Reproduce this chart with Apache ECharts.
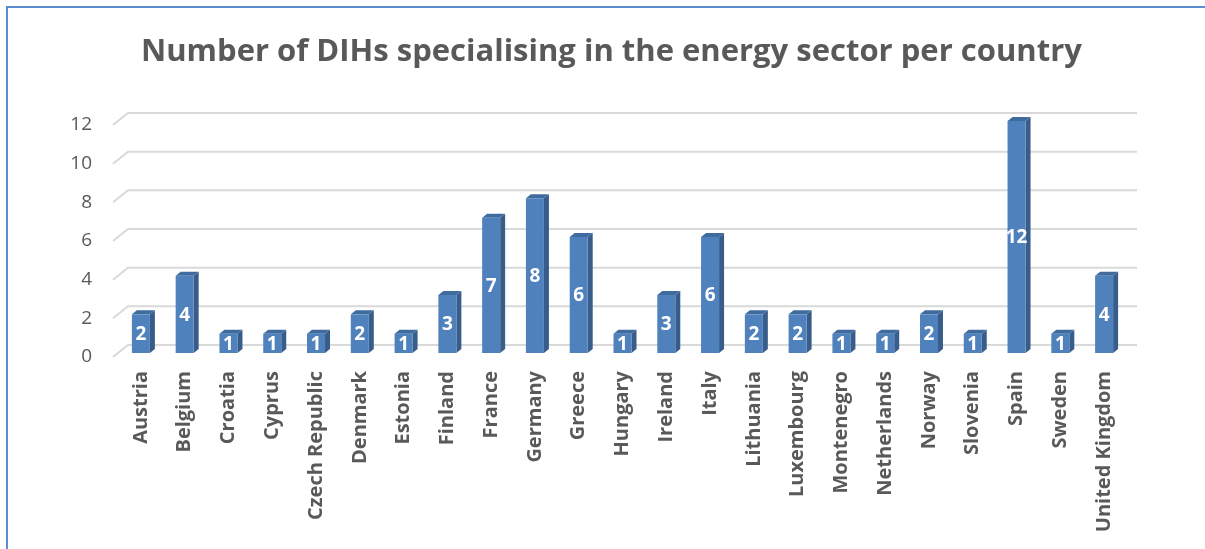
<!DOCTYPE html>
<html>
<head>
<meta charset="utf-8">
<script src="https://cdn.jsdelivr.net/npm/echarts@6/dist/echarts.min.js"></script>
<style>
html,body{margin:0;padding:0;background:#fff;}
#chart{width:1205px;height:549px;}
</style>
</head>
<body>
<div id="chart"></div>
<script>
const categories = ["Austria","Belgium","Croatia","Cyprus","Czech Republic","Denmark","Estonia","Finland","France","Germany","Greece","Hungary","Ireland","Italy","Lithuania","Luxembourg","Montenegro","Netherlands","Norway","Slovenia","Spain","Sweden","United Kingdom"];
const values = [2,4,1,1,1,2,1,3,7,8,6,1,3,6,2,2,1,1,2,1,12,1,4];
const yTicks = [0,2,4,6,8,10,12];

const chart = echarts.init(document.getElementById('chart'), null, {renderer:'canvas'});
const FONT = '"Open Sans", "Liberation Sans", sans-serif';
const GREY = '#595959';

const option = {
  animation: false,
  backgroundColor: '#fff',
  title: {
    text: 'Number of DIHs specialising in the energy sector per country',
    left: 136, top: 32,
    textStyle: {fontFamily: FONT, fontWeight: 'bold', fontSize: 31, color: GREY}
  },
  graphic: [
    {type:'line', shape:{x1:6,y1:7,x2:1205,y2:7}, style:{stroke:'#5b8bd0', lineWidth:2}, z:100},
    {type:'line', shape:{x1:7,y1:6,x2:7,y2:549}, style:{stroke:'#5b8bd0', lineWidth:2}, z:100}
  ],
  grid: {left:119, right:79, top:121, bottom:196, containLabel:false},
  xAxis: {
    type:'category', data: categories,
    axisLine:{show:false}, axisTick:{show:false},
    axisLabel:{rotate:90, interval:0, margin:18, fontFamily:FONT, fontWeight:'bold', fontSize:20, color:GREY}
  },
  yAxis: {
    type:'value', min:0, max:12, interval:2,
    axisLine:{show:false}, axisTick:{show:false}, splitLine:{show:false},
    axisLabel:{show:false}
  },
  series: [
    {
      type:'custom', z:1, silent:true,
      data: yTicks.map(v => [0, v]),
      encode:{x:0, y:1},
      renderItem: function(params, api){
        const cs = params.coordSys;
        const v = api.value(1);
        const y = api.coord([0, v])[1];
        return {
          type:'group',
          children:[
            {type:'polyline',
             shape:{points:[[cs.x-6, y+4],[cs.x+9, y-8],[cs.x+cs.width+11, y-8]]},
             style:{stroke:'#d9d9d9', lineWidth:2, fill:null}},
            {type:'text', x:cs.x-27, y:y+4,
             style:{text:String(v), fill:GREY, font:'19px "Open Sans", sans-serif', align:'right', verticalAlign:'middle'}}
          ]
        };
      }
    },
    {
      type:'custom', z:5,
      data: values.map((v,i) => [i, v]),
      encode:{x:0, y:1},
      renderItem: function(params, api){
        const i = api.value(0), v = api.value(1);
        const top = api.coord([i, v]);
        const base = api.coord([i, 0]);
        const cx = top[0], hw = 9, dx = 5, dy = 4;
        const yt = top[1], yb = base[1];
        return {
          type:'group',
          children:[
            {type:'polygon', shape:{points:[[cx+hw,yt],[cx+hw+dx,yt-dy],[cx+hw+dx,yb-dy],[cx+hw,yb]]}, style:{fill:'#385d8a'}},
            {type:'polygon', shape:{points:[[cx-hw,yt],[cx-hw+dx,yt-dy],[cx+hw+dx,yt-dy],[cx+hw,yt]]}, style:{fill:'#3f6b9e'}},
            {type:'rect', shape:{x:cx-hw, y:yt, width:2*hw, height:yb-yt}, style:{fill:'#4f81bd'}},
            {type:'text', x:cx, y:(yt+yb)/2+1, style:{text:String(v), fill:'#fff', font:'bold 19px "Open Sans", sans-serif', align:'center', verticalAlign:'middle'}}
          ]
        };
      }
    }
  ]
};
chart.setOption(option);
</script>
</body>
</html>
